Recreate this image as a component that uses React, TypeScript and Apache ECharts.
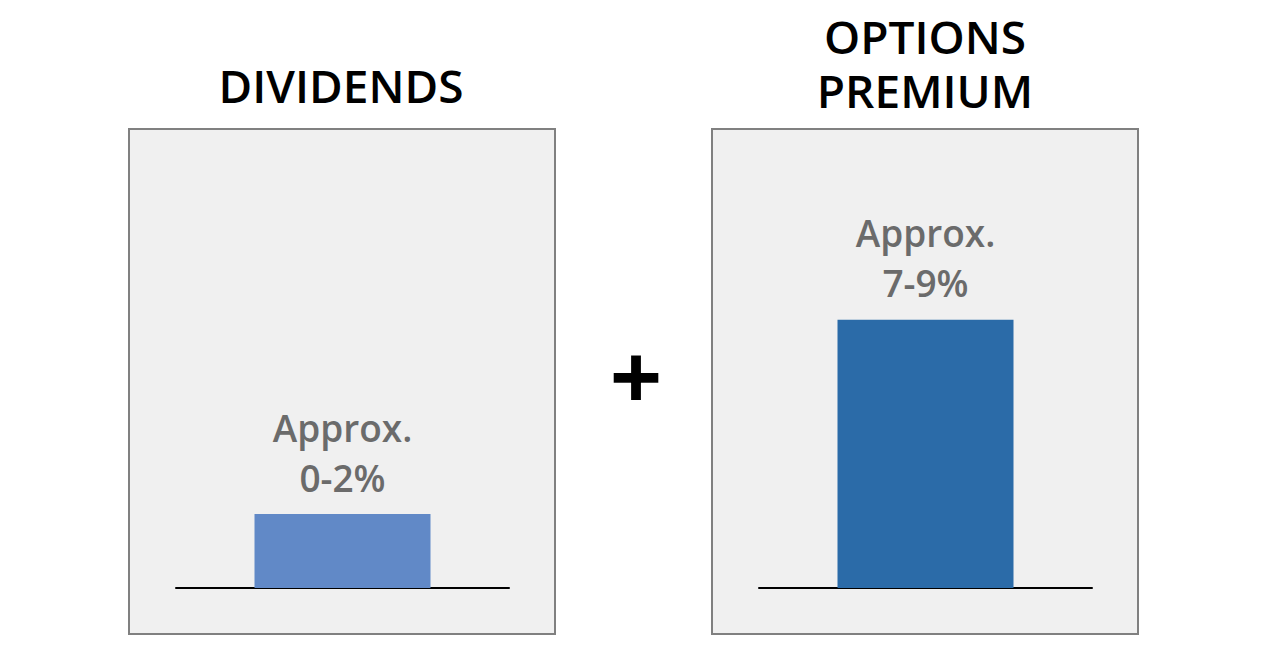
import React, { useEffect, useRef } from "react";
import * as echarts from "echarts";

const panelTitleLines = [["DIVIDENDS"], ["OPTIONS", "PREMIUM"]];
const categories = ["Dividends", "Options Premium"];
const barValues = [2, 7.25];
const barLabels = ["Approx.\n0-2%", "Approx.\n7-9%"];
const barColors = ["#6189c7", "#2b6ba8"];

export default function App() {
  const ref = useRef<HTMLDivElement>(null);
  useEffect(() => {
    if (!ref.current) return;
    const chart = echarts.init(ref.current, null, { renderer: "svg" });
    const font = "'Open Sans', 'Noto Sans', sans-serif";
    const gridLefts = [176, 759];
    const boxLefts = [129, 712];
    const titleCenters = [341, 925];
    const titleYs = [[85], [36, 90]];
    const titleTexts: any[] = [];
    panelTitleLines.forEach((lines, i) =>
      lines.forEach((line, j) =>
        titleTexts.push({
          type: "text",
          x: titleCenters[i],
          y: titleYs[i][j],
          style: {
            text: line,
            fill: "#000",
            font: `600 46px ${font}`,
            lineHeight: 48,
            align: "center",
            verticalAlign: "middle",
          },
        })
      )
    );
    const option: any = {
      animation: false,
      backgroundColor: "#ffffff",
      textStyle: { fontFamily: font },
      graphic: [
        ...boxLefts.map((x) => ({
          type: "rect",
          z: -10,
          silent: true,
          shape: { x, y: 129, width: 426, height: 505 },
          style: { fill: "#f0f0f0", stroke: "#808080", lineWidth: 2 },
        })),
        ...titleTexts,
        {
          type: "text",
          x: 636,
          y: 374,
          style: {
            text: "+",
            fill: "#000",
            font: `700 92px ${font}`,
            align: "center",
            verticalAlign: "middle",
          },
        },
      ],
      grid: gridLefts.map((left) => ({ left, width: 333, top: 218, bottom: 58 })),
      xAxis: categories.map((c, i) => ({
        type: "category",
        gridIndex: i,
        data: [c],
        axisLine: { show: true, lineStyle: { color: "#000", width: 2 } },
        axisTick: { show: false },
        axisLabel: { show: false },
      })),
      yAxis: categories.map((_, i) => ({
        type: "value",
        gridIndex: i,
        min: 0,
        max: 10,
        show: false,
        splitLine: { show: false },
      })),
      series: categories.map((_, i) => ({
        type: "bar",
        xAxisIndex: i,
        yAxisIndex: i,
        barWidth: 176,
        data: [barValues[i]],
        itemStyle: { color: barColors[i] },
        label: {
          show: true,
          position: "top",
          distance: 12,
          formatter: barLabels[i],
          color: "#6b6b6b",
          fontFamily: font,
          fontSize: 37,
          fontWeight: 600,
          lineHeight: 50,
          align: "center",
        },
      })),
    };
    chart.setOption(option);
    return () => chart.dispose();
  }, []);
  return (
    <div
      ref={ref}
      style={{ position: "fixed", left: 0, top: 0, width: 1280, height: 646 }}
    />
  );
}
